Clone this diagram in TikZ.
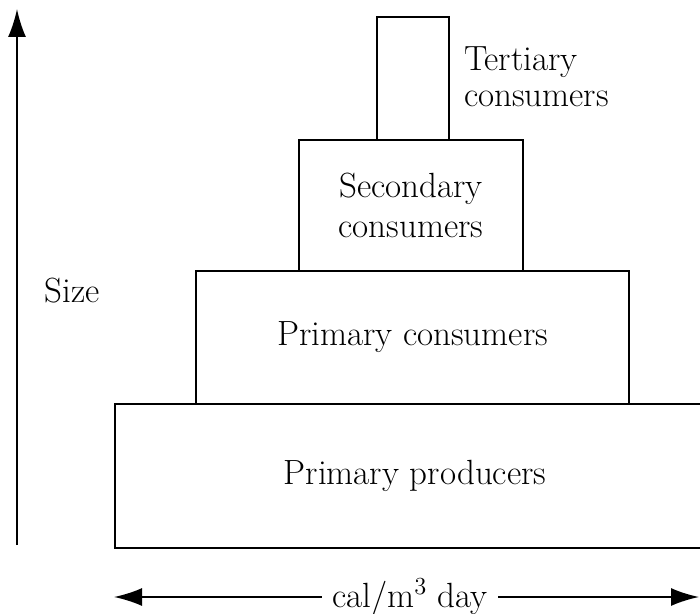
\documentclass[tikz,border=0pt]{standalone}
\usepackage{tikz}
\usetikzlibrary{arrows.meta,positioning}

\tikzset{
  level/.style={draw, line width=1pt, outer sep=0pt, inner sep=0pt, align=center},
  axis/.style={line width=1pt, -{Latex[length=14pt,width=9pt]}},
}

\begin{document}
\begin{tikzpicture}[x=0.5pt, y=-0.5pt, font=\fontsize{17.5}{19}\selectfont]
    \useasboundingbox (0,0) rectangle (700,614);
    % pyramid, bottom up
    \node[level, minimum width=300pt, minimum height=72pt] (producers) at (415,476) {Primary producers};
    \node[level, minimum width=216.5pt, minimum height=66.5pt, above=0pt of producers, xshift=-1.25pt] (primary) {Primary consumers};
    \node[level, minimum width=112pt, minimum height=65.5pt, above=0pt of primary, xshift=-0.75pt] (secondary) {Secondary\\[1pt] consumers};
    \node[level, minimum width=36pt, minimum height=61.5pt, above=0pt of secondary, xshift=1pt] (tertiary) {};
    \node[anchor=west, align=left] (tertlabel) at (457,76.5) {Tertiary\\[-1pt] consumers};
    % size axis
    \coordinate (sizelow) at (17,545);
    \coordinate (sizetop) at (17,9);
    \draw[axis] (sizelow) -- (sizetop);
    \node (size) at (72,291) {Size};
    % energy axis
    \node[inner xsep=5pt] (unit) at (410,597) {cal/m\textsuperscript{3}~day};
    \coordinate (unitleft) at (114,597);
    \coordinate (unitright) at (699,597);
    \draw[axis] (unit) -- (unitleft);
    \draw[axis] (unit) -- (unitright);
\end{tikzpicture}
\end{document}
